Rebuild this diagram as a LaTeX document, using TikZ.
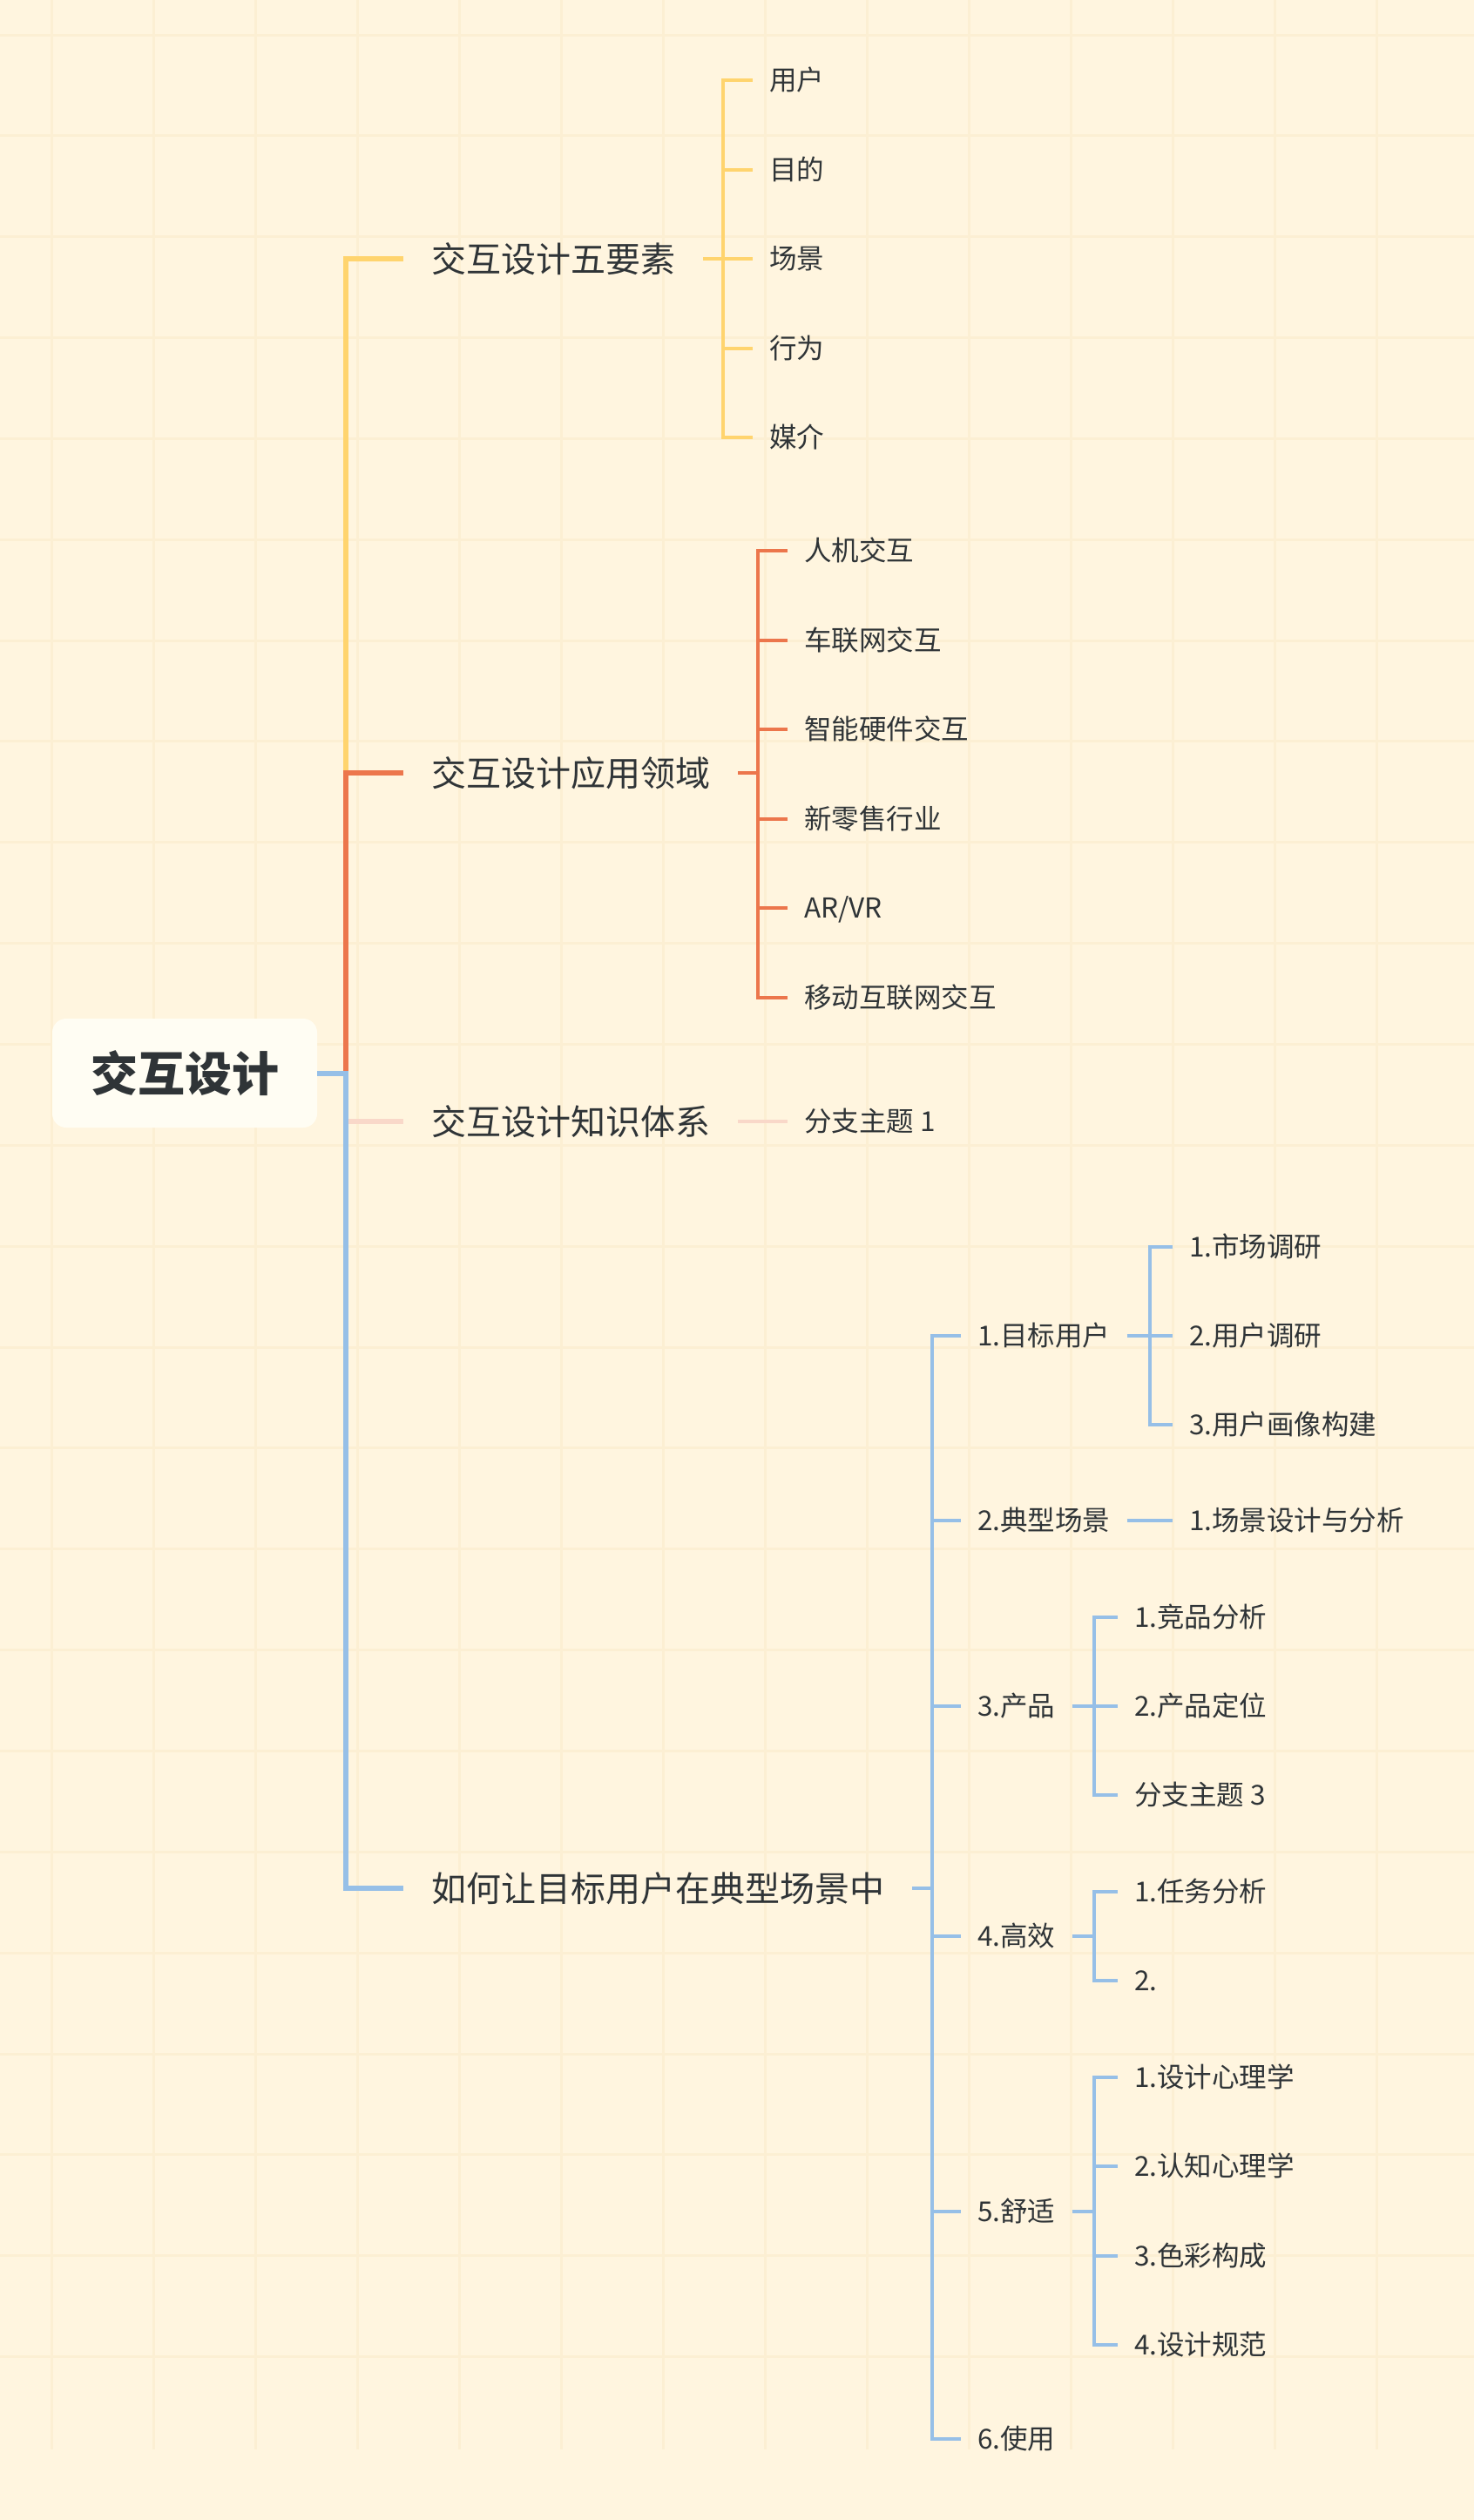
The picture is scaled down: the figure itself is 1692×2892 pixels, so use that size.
\documentclass[tikz,border=0pt]{standalone}
\usepackage{fontspec}
\setmainfont{Noto Sans CJK SC}
\newfontfamily\cjk{Noto Sans CJK SC}
\definecolor{bgc}{HTML}{FFF5DF}
\definecolor{gridc}{HTML}{FCEFD3}
\definecolor{textc}{HTML}{2F3437}
\definecolor{yelc}{HTML}{FFD46E}
\definecolor{orac}{HTML}{EC764C}
\definecolor{bluc}{HTML}{96BFE7}
\definecolor{pinc}{HTML}{F9D8C9}
\definecolor{rootfill}{HTML}{FFFDF3}
\begin{document}
\begin{tikzpicture}[x=1pt,y=-1pt,
  rootbox/.style={fill=rootfill,rounded corners=16pt,minimum width=304pt,minimum height=125pt,
     inner sep=0pt,text=textc,font=\cjk\bfseries\fontsize{54}{60}\selectfont},
  lone/.style={anchor=west,inner xsep=32pt,inner ysep=0pt,text height=35.2pt,text depth=4.8pt,
     text=textc,font=\cjk\fontsize{40}{48}\selectfont},
  sub/.style={anchor=west,inner xsep=19pt,inner ysep=0pt,text height=27.7pt,text depth=3.8pt,
     text=textc,font=\cjk\fontsize{31.5}{38}\selectfont},
  gridln/.style={draw=gridc,line width=3pt},
  mainln/.style={line width=6pt,line join=miter,line cap=butt},
  subln/.style={line width=4pt,line join=miter,line cap=butt},
]
\useasboundingbox (0,0) rectangle (1692,2892);
\fill[bgc] (0,0) rectangle (1692,2892);
% grid
\foreach \i in {0,...,13} \draw[gridln] ({59+117*\i},0) -- ({59+117*\i},2811);
\foreach \j in {0,...,23} \draw[gridln] (0,{40+115.85*\j}) -- (1692,{40+115.85*\j});

% root
\node[rootbox] (root) at (212,1231.5) {交互设计};

% level 1
\node[lone] (ya) at (463,297) {交互设计五要素};
\node[lone] (oa) at (463,887) {交互设计应用领域};
\node[lone] (pa) at (463,1287) {交互设计知识体系};
\node[lone] (ba) at (463,2167) {如何让目标用户在典型场景中};

% trunk coordinates
\coordinate (ty) at (397,297);
\coordinate (to) at (397,887);
\coordinate (tr) at (397,1232);
\coordinate (tp) at (397,1287);
\coordinate (tb) at (397,2167);

% trunk
\draw[mainln,yelc] (ya.west) -- (ty) -- (to);
\draw[mainln,orac] (oa.west) -- (to) -- (tr);
\draw[mainln,pinc] (tp) -- (pa.west);
\draw[mainln,bluc] (root.east |- tr) -- (tr) -- (tb) -- (ba.west);

% yellow children
\coordinate (yv) at (830,297);
\node[sub] (y1) at (864,92) {用户};
\node[sub] (y2) at (864,194.5) {目的};
\node[sub] (y3) at (864,297) {场景};
\node[sub] (y4) at (864,399.5) {行为};
\node[sub] (y5) at (864,502) {媒介};
\draw[subln,yelc] (ya.east) -- (yv);
\foreach \c in {y1,y2,y3,y4,y5} \draw[subln,yelc] (yv) |- (\c.west);

% orange children
\coordinate (ov) at (870,887);
\node[sub] (o1) at (904,632) {人机交互};
\node[sub] (o2) at (904,734.5) {车联网交互};
\node[sub] (o3) at (904,837) {智能硬件交互};
\node[sub] (o4) at (904,939.5) {新零售行业};
\node[sub] (o5) at (904,1042) {AR/VR};
\node[sub] (o6) at (904,1144.5) {移动互联网交互};
\draw[subln,orac] (oa.east) -- (ov);
\foreach \c in {o1,o2,o3,o4,o5,o6} \draw[subln,orac] (ov) |- (\c.west);

% pink child
\node[sub] (p1) at (904,1287) {分支主题 1};
\draw[subln,pinc] (pa.east) -- (p1.west);

% blue level 2
\coordinate (bv) at (1070,2167);
\node[sub] (b1) at (1103,1533) {1.目标用户};
\node[sub] (b2) at (1103,1745) {2.典型场景};
\node[sub] (b3) at (1103,1958) {3.产品};
\node[sub] (b4) at (1103,2222) {4.高效};
\node[sub] (b5) at (1103,2537.5) {5.舒适};
\node[sub] (b6) at (1103,2799) {6.使用};
\draw[subln,bluc] (ba.east) -- (bv);
\foreach \c in {b1,b2,b3,b4,b5,b6} \draw[subln,bluc] (bv) |- (\c.west);

% blue level 3: 目标用户
\coordinate (b1v) at (1320,1533);
\node[sub] (b11) at (1346,1431) {1.市场调研};
\node[sub] (b12) at (1346,1533) {2.用户调研};
\node[sub] (b13) at (1346,1635) {3.用户画像构建};
\draw[subln,bluc] (b1.east) -- (b1v);
\foreach \c in {b11,b12,b13} \draw[subln,bluc] (b1v) |- (\c.west);

% 典型场景
\node[sub] (b21) at (1346,1745) {1.场景设计与分析};
\draw[subln,bluc] (b2.east) -- (b21.west);

% 产品
\coordinate (b3v) at (1256,1958);
\node[sub] (b31) at (1283,1856) {1.竞品分析};
\node[sub] (b32) at (1283,1958) {2.产品定位};
\node[sub] (b33) at (1283,2060) {分支主题 3};
\draw[subln,bluc] (b3.east) -- (b3v);
\foreach \c in {b31,b32,b33} \draw[subln,bluc] (b3v) |- (\c.west);

% 高效
\coordinate (b4v) at (1256,2222);
\node[sub] (b41) at (1283,2171) {1.任务分析};
\node[sub] (b42) at (1283,2273) {2.};
\draw[subln,bluc] (b4.east) -- (b4v);
\foreach \c in {b41,b42} \draw[subln,bluc] (b4v) |- (\c.west);

% 舒适
\coordinate (b5v) at (1256,2537.5);
\node[sub] (b51) at (1283,2384) {1.设计心理学};
\node[sub] (b52) at (1283,2486) {2.认知心理学};
\node[sub] (b53) at (1283,2589) {3.色彩构成};
\node[sub] (b54) at (1283,2691) {4.设计规范};
\draw[subln,bluc] (b5.east) -- (b5v);
\foreach \c in {b51,b52,b53,b54} \draw[subln,bluc] (b5v) |- (\c.west);
\end{tikzpicture}
\end{document}
